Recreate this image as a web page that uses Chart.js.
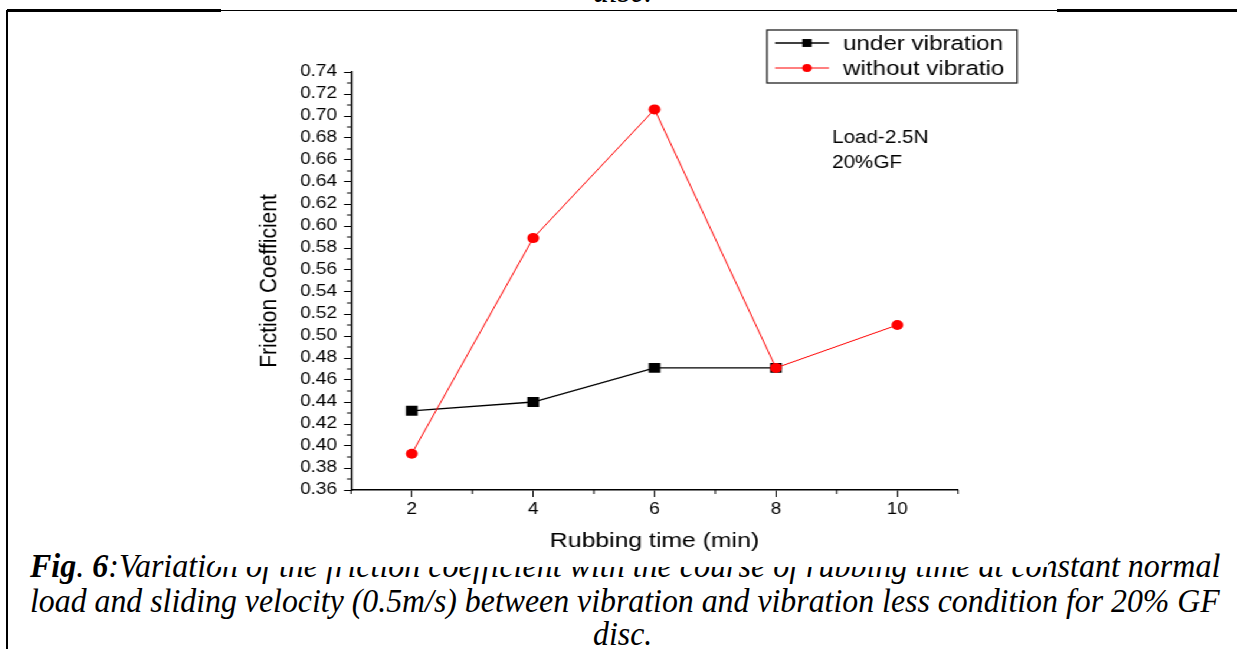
<!DOCTYPE html>
<html>
<head>
<meta charset="utf-8">
<script src="https://cdn.jsdelivr.net/npm/chart.js@4.4.0/dist/chart.umd.min.js"></script>
<style>
  html, body { margin: 0; padding: 0; background: #fff; width: 1237px; height: 649px; overflow: hidden; position: relative; }
  .rule { position: absolute; background: #000; }
  .cap { position: absolute; left: 30px; font-family: "Liberation Serif", serif; font-style: italic; font-size: 33px;
         line-height: 1; white-space: nowrap; transform-origin: left top; color: #000; }
  #wrap { position: absolute; left: 215px; top: 14px; width: 706px; height: 553px; background: #fff;
          transform: scaleX(1.18); transform-origin: left top; }
</style>
</head>
<body>
<div class="cap" id="topdisc" style="top:-25px">disc.</div>
<div class="rule" style="left:7px; top:10px; width:1230px; height:1px"></div>
<div class="rule" style="left:7px; top:9px; width:214px; height:3px"></div>
<div class="rule" style="left:1057px; top:9px; width:180px; height:3px"></div>
<div class="rule" style="left:6px; top:10px; width:2px; height:639px"></div>

<div class="cap" id="line1" style="top:550px"><b>Fig</b>. <b>6</b>:Variation of the friction coefficient with the course of rubbing time at constant normal</div>
<div class="cap" id="line2" style="top:585px">load and sliding velocity (0.5m/s) between vibration and vibration less condition for 20% GF</div>
<div class="cap" id="line3" style="top:618px">disc.</div>

<div id="wrap"><canvas id="chart"></canvas></div>

<script>
// x axis: rubbing time (min)
const xTicks = [2, 4, 6, 8, 10];
const xMinor = [1, 3, 5, 7, 9, 11];
// y axis: friction coefficient
const yTicks = [0.36, 0.38, 0.40, 0.42, 0.44, 0.46, 0.48, 0.50, 0.52, 0.54, 0.56,
                0.58, 0.60, 0.62, 0.64, 0.66, 0.68, 0.70, 0.72, 0.74];
const yMinor = [0.37, 0.39, 0.41, 0.43, 0.45, 0.47, 0.49, 0.51, 0.53, 0.55,
                0.57, 0.59, 0.61, 0.63, 0.65, 0.67, 0.69, 0.71, 0.73];

const timeUnder = [2, 4, 6, 8];
const underVibration = [0.432, 0.440, 0.471, 0.471];
const timeWithout = [2, 4, 6, 8, 10];
const withoutVibration = [0.393, 0.589, 0.706, 0.471, 0.510];

const noteLines = ['Load-2.5N', '20%GF'];

const FONT = 'Liberation Sans';

function toPoints(xs, ys) {
    return xs.map((x, i) => ({ x: x, y: ys[i] }));
}

// short ticks between the labelled ones
const minorTicks = {
    id: 'minorTicks',
    afterDraw(chart) {
        const { ctx, chartArea, scales } = chart;
        ctx.save();
        ctx.strokeStyle = '#000';
        ctx.lineWidth = 1;
        ctx.beginPath();
        xMinor.forEach(v => {
            const px = scales.x.getPixelForValue(v);
            ctx.moveTo(px, chartArea.bottom);
            ctx.lineTo(px, chartArea.bottom + 4);
        });
        yMinor.forEach(v => {
            const py = scales.y.getPixelForValue(v);
            ctx.moveTo(chartArea.left, py);
            ctx.lineTo(chartArea.left - 3.5, py);
        });
        ctx.stroke();
        ctx.restore();
    }
};

// boxed legend and the load note, placed inside the figure
const boxedLegend = {
    id: 'boxedLegend',
    afterDraw(chart) {
        const ctx = chart.ctx;
        const sets = chart.data.datasets;
        ctx.save();
        ctx.strokeStyle = '#222';
        ctx.lineWidth = 1.3;
        ctx.strokeRect(467.8, 16, 211.9, 53);

        ctx.font = '20.5px ' + FONT;
        ctx.textBaseline = 'middle';
        sets.forEach((ds, i) => {
            const y = 29 + i * 25;
            ctx.strokeStyle = ds.borderColor;
            ctx.lineWidth = ds.borderWidth;
            ctx.beginPath();
            ctx.moveTo(474.6, y);
            ctx.lineTo(520.3, y);
            ctx.stroke();
            ctx.fillStyle = ds.pointBackgroundColor;
            Chart.helpers.drawPoint(ctx, {
                pointStyle: ds.pointStyle, radius: ds.pointRadius * 0.8, rotation: 0, borderWidth: 0
            }, 501.7, y);
            ctx.fillStyle = '#000';
            ctx.fillText(ds.label, 532.2, y + 1);
        });

        ctx.font = '17.5px ' + FONT;
        ctx.textBaseline = 'alphabetic';
        noteLines.forEach((t, i) => ctx.fillText(t, 522.9, 129 + i * 25));
        ctx.restore();
    }
};

const axisFont = { family: FONT, size: 16 };
const titleFont = { family: FONT, size: 21 };

new Chart(document.getElementById('chart'), {
    type: 'line',
    data: {
        datasets: [{
            label: 'under vibration',
            data: toPoints(timeUnder, underVibration),
            borderColor: '#000',
            borderWidth: 1.3,
            pointStyle: 'rect',
            pointRadius: 7,
            pointBackgroundColor: '#000',
            pointBorderWidth: 0,
            order: 1
        }, {
            label: 'without vibratio',
            data: toPoints(timeWithout, withoutVibration),
            borderColor: '#ff0000',
            borderWidth: 1,
            pointStyle: 'circle',
            pointRadius: 5,
            pointBackgroundColor: '#ff0000',
            pointBorderWidth: 0,
            order: 0
        }]
    },
    options: {
        responsive: true,
        maintainAspectRatio: false,
        animation: false,
        layout: { padding: { top: 58, right: 76.3, left: 0, bottom: 0 } },
        plugins: {
            legend: { display: false },
            tooltip: { enabled: false }
        },
        scales: {
            x: {
                type: 'linear',
                min: 1,
                max: 11,
                afterBuildTicks: s => { s.ticks = xTicks.map(v => ({ value: v })); },
                afterFit: s => { s.height = 77; },
                grid: { drawOnChartArea: false, tickLength: 7, color: '#000', lineWidth: 1 },
                border: { color: '#000', width: 1.5 },
                ticks: { color: '#000', font: axisFont, padding: 3, maxRotation: 0, autoSkip: false },
                title: { display: true, text: 'Rubbing time (min)', color: '#000', font: titleFont, padding: { bottom: 13.4 } }
            },
            y: {
                min: 0.36,
                max: 0.74,
                afterBuildTicks: s => { s.ticks = yTicks.map(v => ({ value: v })); },
                afterFit: s => { s.width = 115.3; },
                grid: { drawOnChartArea: false, tickLength: 6, color: '#000', lineWidth: 1 },
                border: { color: '#000', width: 1.5 },
                ticks: { color: '#000', font: axisFont, padding: 6, autoSkip: false, callback: v => v.toFixed(2) },
                title: { display: true, text: 'Friction Coefficient', color: '#000', font: titleFont, padding: { top: 34 } }
            }
        }
    },
    plugins: [minorTicks, boxedLegend]
});

// caption lines run the full text width, like the justified figure caption
const capWidth = 1190;
['line1', 'line2'].forEach(id => {
    const el = document.getElementById(id);
    el.style.transform = 'scaleX(' + (capWidth / el.offsetWidth) + ')';
});
const sx = capWidth / document.getElementById('line2').offsetWidth;
['line3', 'topdisc'].forEach(id => {
    const el = document.getElementById(id);
    el.style.left = (622 - el.offsetWidth * sx / 2) + 'px';
    el.style.transform = 'scaleX(' + sx + ')';
});
</script>
</body>
</html>
